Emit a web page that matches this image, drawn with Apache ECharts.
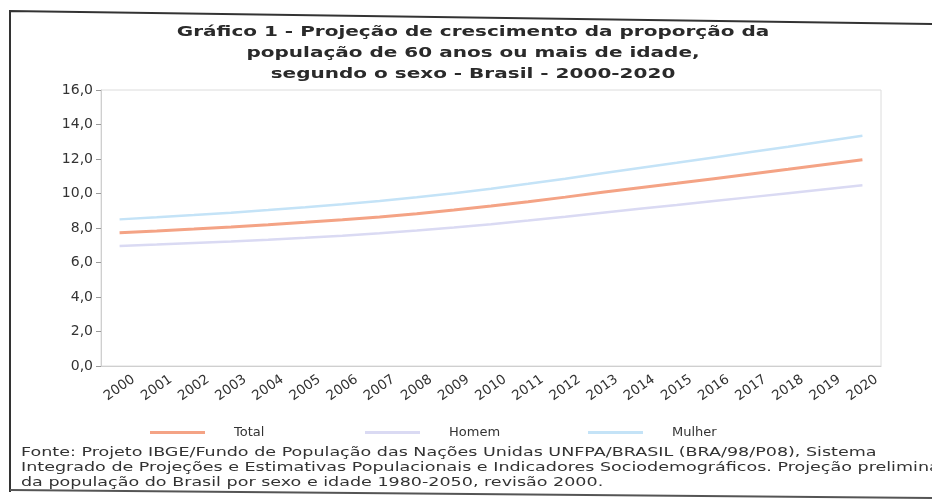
<!DOCTYPE html>
<html><head><meta charset="utf-8">
<script src="https://cdn.jsdelivr.net/npm/echarts@6/dist/echarts.min.js"></script>
<style>html,body{margin:0;padding:0;background:#fff}#c{width:932px;height:504px}</style>
</head><body><div id="c"></div>
<script>
const years = ['2000','2001','2002','2003','2004','2005','2006','2007','2008','2009','2010','2011','2012','2013','2014','2015','2016','2017','2018','2019','2020'];
const total  = [7.73,7.83,7.94,8.06,8.19,8.33,8.48,8.64,8.83,9.04,9.27,9.52,9.79,10.07,10.33,10.59,10.86,11.13,11.40,11.68,11.96];
const homem  = [6.96,7.04,7.13,7.22,7.32,7.43,7.55,7.69,7.85,8.03,8.22,8.43,8.65,8.89,9.11,9.33,9.56,9.79,10.02,10.25,10.48];
const mulher = [8.50,8.62,8.75,8.89,9.04,9.20,9.37,9.56,9.78,10.02,10.28,10.56,10.86,11.18,11.48,11.78,12.09,12.40,12.71,13.03,13.35];
const titleLines = ['Gráfico 1 - Projeção de crescimento da proporção da','população de 60 anos ou mais de idade,','segundo o sexo - Brasil - 2000-2020'];
const sourceLines = [
 'Fonte: Projeto IBGE/Fundo de População das Nações Unidas UNFPA/BRASIL (BRA/98/P08), Sistema',
 'Integrado de Projeções e Estimativas Populacionais e Indicadores Sociodemográficos. Projeção preliminar',
 'da população do Brasil por sexo e idade 1980-2050, revisão 2000.'
];
const colors = {Total:'#f4a385', Homem:'#dadaf3', Mulher:'#c4e3f7'};
const font = 'DejaVu Sans';
const chart = echarts.init(document.getElementById('c'), null, {renderer:'canvas'});
function leg(name, left){
  return {data:[name], left:left, top:421, itemWidth:55, itemHeight:3, icon:'rect',
    textStyle:{fontFamily:font, fontSize:13, color:'#333', padding:[0,0,0,24]}};
}
chart.setOption({
  animation:false,
  grid:{left:101, right:51, top:90, bottom:138, show:true, borderColor:'#dcdcdc', borderWidth:1},
  legend:[leg('Total',145), leg('Homem',360), leg('Mulher',583)],
  xAxis:{type:'category', data:years, boundaryGap:true,
    axisLine:{lineStyle:{color:'#cfcfcf'}}, axisTick:{alignWithLabel:true, lineStyle:{color:'#bbb'}, length:3},
    axisLabel:{rotate:35, align:'center', verticalAlign:'middle', fontFamily:font, fontSize:13.5, color:'#333', margin:22, interval:0}},
  yAxis:{type:'value', min:0, max:16, interval:2,
    axisLine:{show:true, lineStyle:{color:'#cfcfcf'}}, axisTick:{show:true, length:5, lineStyle:{color:'#999'}},
    splitLine:{show:false},
    axisLabel:{fontFamily:font, fontSize:14, color:'#333', margin:8,
      formatter:v=>v.toFixed(1).replace('.',',')}},
  series:[
    {name:'Total', type:'line', data:total, symbol:'none', lineStyle:{width:3, color:colors.Total}, itemStyle:{color:colors.Total}},
    {name:'Homem', type:'line', data:homem, symbol:'none', lineStyle:{width:2.5, color:colors.Homem}, itemStyle:{color:colors.Homem}},
    {name:'Mulher', type:'line', data:mulher, symbol:'none', lineStyle:{width:2.5, color:colors.Mulher}, itemStyle:{color:colors.Mulher}}
  ],
  graphic:[
    {type:'text', x:473, y:22, scaleX:1.38, style:{text:titleLines.join('\n'), textAlign:'center', fontFamily:font, fontWeight:'bold', fontSize:14.5, lineHeight:21, fill:'#2a2a2a'}},
    {type:'text', x:21, y:445, scaleX:1.46, style:{text:sourceLines.join('\n'), fontFamily:font, fontSize:12, lineHeight:15, fill:'#333'}},
    {type:'polyline', shape:{points:[[10,492],[10,11],[932,24]]}, style:{stroke:'#333', lineWidth:2, fill:null}},
    {type:'line', shape:{x1:10,y1:490,x2:932,y2:498}, style:{stroke:'#555', lineWidth:2}}
  ]
});
</script></body></html>
